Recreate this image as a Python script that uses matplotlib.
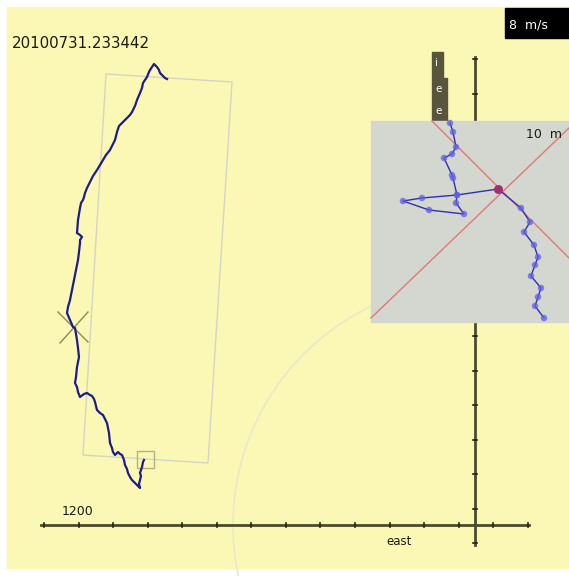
import numpy as np
import matplotlib.pyplot as plt
from matplotlib.patches import Rectangle, Polygon, Circle

# Data (screen coordinates of the track display, pixels)
track_x = [167, 165, 163, 160, 159, 157, 154, 152, 150, 149, 147, 145, 143, 142, 140, 137,
           135, 132, 130, 127, 123, 119, 118, 117, 116, 115, 112, 110, 106, 103, 100, 97,
           93, 90, 87, 85, 84, 83, 81, 80, 79, 78, 77, 80, 82, 80, 80, 79, 78, 76, 74, 72,
           70, 68, 67, 70, 73, 75, 77, 78, 79, 77, 76, 75, 77, 78, 80, 84, 87, 90, 92, 94,
           95, 96, 97, 100, 103, 105, 107, 108, 109, 110, 112, 113, 115, 118, 120, 122,
           124, 125, 127, 128, 130, 132, 135, 137, 140, 139, 140, 141, 140, 142, 143, 144]
track_y = [79, 78, 76, 73, 70, 67, 64, 67, 70, 72, 77, 80, 83, 88, 93, 100,
           106, 112, 115, 118, 122, 126, 129, 132, 136, 140, 146, 150, 155, 160, 165, 170,
           176, 182, 188, 193, 197, 200, 203, 208, 214, 220, 233, 235, 237, 240, 243, 252,
           260, 270, 280, 290, 300, 307, 313, 320, 327, 328, 340, 348, 357, 367, 377, 383,
           387, 392, 397, 394, 393, 395, 396, 399, 402, 406, 410, 413, 415, 419, 423, 428,
           433, 443, 448, 452, 455, 452, 454, 455, 460, 465, 469, 473, 477, 480, 483, 485,
           488, 484, 480, 476, 473, 467, 462, 460]

# footprint box corners
box_x = [106, 232, 208, 83]
box_y = [74, 82, 463, 455]

# inset (zoomed) track
inset_x = [450, 453, 456, 452, 444, 452, 453, 457, 456, 464, 429, 403, 422, 457, 498,
           521, 530, 524, 534, 538, 535, 531, 541, 538, 535, 544]
inset_y = [123, 132, 147, 154, 158, 175, 178, 195, 203, 214, 210, 201, 198, 195, 189,
           208, 222, 232, 245, 257, 265, 276, 288, 297, 306, 318]

# axes ticks
h_ticks = [44, 79, 113, 148, 182, 217, 251, 286, 320, 355, 390, 424, 459, 493, 528]
v_ticks = [59, 94, 129, 163, 198, 232, 267, 301, 336, 371, 405, 440, 474, 509, 543]

bg = '#faf8b4'
axis_col = '#4c4a2c'
txt_col = '#1a1a10'

fig = plt.figure(figsize=(5.69, 5.76), dpi=100)
ax = fig.add_axes([0, 0, 1, 1])
ax.set_xlim(0, 569)
ax.set_ylim(576, 0)
ax.axis('off')

ax.add_patch(Rectangle((7, 7), 562, 561, color=bg, zorder=0))

# big range circle
ax.add_patch(Circle((475, 525), 242, fill=False, ec='#ebe9c8', lw=1.2, zorder=1))

# footprint box and start marker
ax.add_patch(Polygon(list(zip(box_x, box_y)), closed=True, fill=False, ec='#d6d4c4', lw=1, zorder=2))
ax.add_patch(Rectangle((137, 451), 17, 17, fill=False, ec='#b8b080', lw=1, zorder=2))
ax.plot([58, 88], [312, 342], color='#8c8a52', lw=1, zorder=3)
ax.plot([60, 88], [343, 312], color='#8c8a52', lw=1, zorder=3)

# track
ax.plot(track_x, track_y, color='#1c1c8c', lw=1.6, zorder=4)

# axes
ax.plot([41, 529], [525, 525], color=axis_col, lw=2, zorder=5)
ax.plot([475, 475], [57, 545], color=axis_col, lw=2, zorder=5)
for t in h_ticks:
    ax.plot([t, t], [523, 527], color='#222211', lw=1.2, zorder=5)
for t in v_ticks:
    ax.plot([473, 477], [t, t], color='#222211', lw=1.2, zorder=5)
ax.text(62, 515, '1200', fontsize=9, color=txt_col, zorder=6)
ax.text(386, 545, 'east', fontsize=8.5, color=txt_col, zorder=6)

# title text
ax.text(12, 48, '20100731.233442', fontsize=10.8, color=txt_col, zorder=6)

# speed box
ax.add_patch(Rectangle((505, 8), 64, 30, color='black', zorder=6))
ax.text(509, 28, '8  m/s', fontsize=9, color='white', zorder=7)

# i e e label
ax.add_patch(Polygon([(432, 52), (443, 52), (443, 78), (447, 78), (447, 121), (432, 121)],
                     closed=True, color='#58553c', zorder=6))
for lab, yy in zip(['i', 'e', 'e'], [66, 92, 114]):
    ax.text(435, yy, lab, fontsize=7.5, color='white', zorder=7)

# inset
ax.add_patch(Rectangle((371, 121), 198, 201, color='#d4d6d0', zorder=8))
ax.plot([432, 569], [121, 258], color='#e07878', lw=1, zorder=9)
ax.plot([371, 569], [318, 128], color='#e07878', lw=1, zorder=9)
ax.plot(inset_x, inset_y, color='#3030b0', lw=1, zorder=10)
ax.scatter(inset_x, inset_y, s=22, color='#6060e0', alpha=0.75, edgecolors='none', zorder=11)
ax.scatter([498], [189], s=30, color='#a03070', zorder=12)
ax.text(526, 138, '10  m', fontsize=9, color=txt_col, zorder=12)

fig.savefig('out.png', dpi=100)
